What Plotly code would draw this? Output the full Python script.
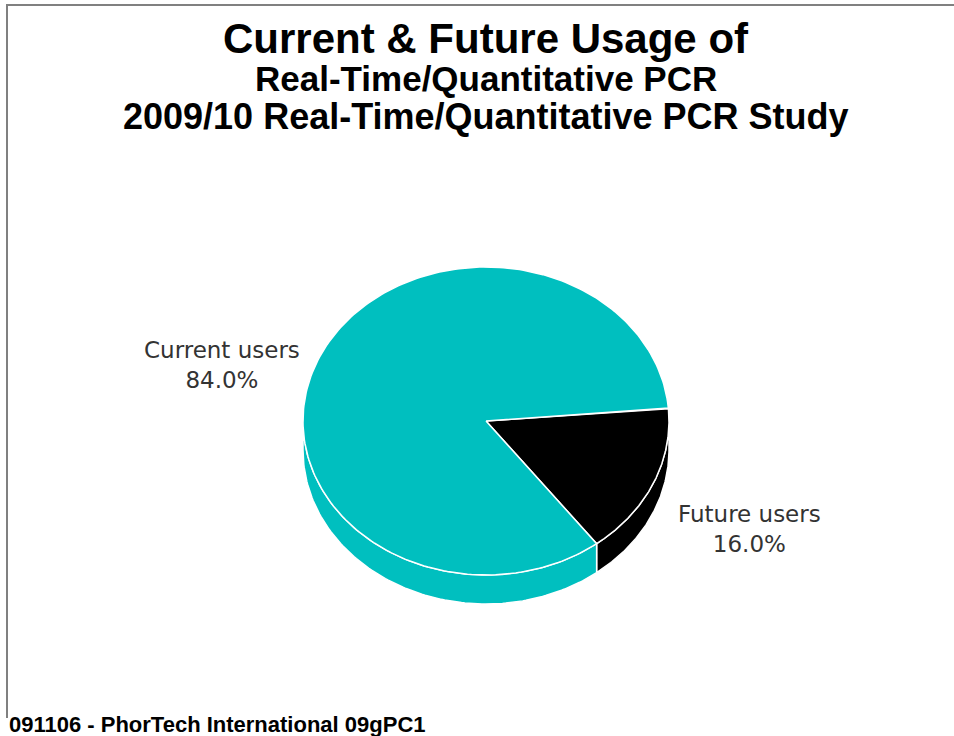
import numpy as np
import plotly.graph_objects as go

# ---- data ----
labels = ["Future users", "Current users"]
values = [16.0, 84.0]
colors = ["#000000", "#00BFBF"]

title_lines = ["Current & Future Usage of",
               "Real-Time/Quantitative PCR",
               "2009/10 Real-Time/Quantitative PCR Study"]
footer = "091106 - PhorTech International 09gPC1"

# ---- geometry (pixel space) ----
W, H = 954, 736
CX, CY = 486, 421
RX, RY = 183, 154
DEPTH = 29
START = 4.8  # degrees, math angle where first slice starts (clockwise drawing)

fracs = np.array(values) / sum(values)
spans = fracs * 360.0
ends = START - np.cumsum(spans)
starts = ends + spans


def ell(t_deg, dy=0.0):
    t = np.radians(t_deg)
    return CX + RX * np.cos(t), CY - RY * np.sin(t) + dy


fig = go.Figure()

# side walls (visible lower half, math angles in [-180, 0])
for s, e, c in zip(starts, ends, colors):
    for k in (-1, 0, 1):
        lo = max(e + 360 * k, -180)
        hi = min(s + 360 * k, 0)
        if hi > lo:
            t = np.linspace(hi, lo, 120)
            x1, y1 = ell(t)
            x2, y2 = ell(t[::-1], DEPTH)
            xs = np.concatenate([x1, x2, x1[:1]])
            ys = np.concatenate([y1, y2, y1[:1]])
            fig.add_trace(go.Scatter(x=xs, y=ys, mode="lines", fill="toself",
                                     fillcolor=c, line=dict(color="white", width=1.5),
                                     hoverinfo="skip", showlegend=False))

# top slices
for lab, v, s, e, c in zip(labels, values, starts, ends, colors):
    t = np.linspace(s, e, 240)
    x, y = ell(t)
    xs = np.concatenate([[CX], x, [CX]])
    ys = np.concatenate([[CY], y, [CY]])
    fig.add_trace(go.Scatter(x=xs, y=ys, mode="lines", fill="toself",
                             fillcolor=c, line=dict(color="white", width=1.5),
                             name=lab, hovertemplate=f"{lab}: {v:.1f}%<extra></extra>",
                             showlegend=False))

# labels
label_offsets = {"Current users": (-17, 7, "right"), "Future users": (23, 45, "left")}
for lab, v, s, e in zip(labels, values, starts, ends):
    mx, my = ell((s + e) / 2)
    dx, dy, anc = label_offsets[lab]
    fig.add_annotation(x=mx + dx, y=my + dy, xref="x", yref="y",
                       text=f"{lab}<br>{v:.1f}%", showarrow=False,
                       xanchor=anc, yanchor="middle", align="center",
                       font=dict(family="DejaVu Sans, Liberation Sans", size=23, color="#333333"))

# titles
title_specs = [(38, 42), (78, 35), (116, 36)]
for txt, (yy, sz) in zip(title_lines, title_specs):
    fig.add_annotation(x=486, y=yy, xref="x", yref="y", text=f"<b>{txt}</b>", showarrow=False,
                       xanchor="center", yanchor="middle",
                       font=dict(family="Liberation Sans, Arial", size=sz, color="black"))

fig.add_annotation(x=0.007, y=0, xref="paper", yref="paper", text=f"<b>{footer}</b>",
                   showarrow=False, xanchor="left", yanchor="bottom", yshift=-3,
                   font=dict(family="Liberation Sans, Arial", size=22, color="black"))

# frame
fig.add_shape(type="line", x0=7, x1=W, y0=5, y1=5, xref="x", yref="y",
              line=dict(color="#808080", width=2))
fig.add_shape(type="line", x0=7, x1=7, y0=4, y1=718, xref="x", yref="y",
              line=dict(color="#808080", width=2))

fig.update_xaxes(range=[0, W], visible=False, fixedrange=True)
fig.update_yaxes(range=[H, 0], visible=False, fixedrange=True)
fig.update_layout(width=W, height=H, margin=dict(l=0, r=0, t=0, b=0),
                  paper_bgcolor="white", plot_bgcolor="white", showlegend=False)

fig.write_html("out.html")
